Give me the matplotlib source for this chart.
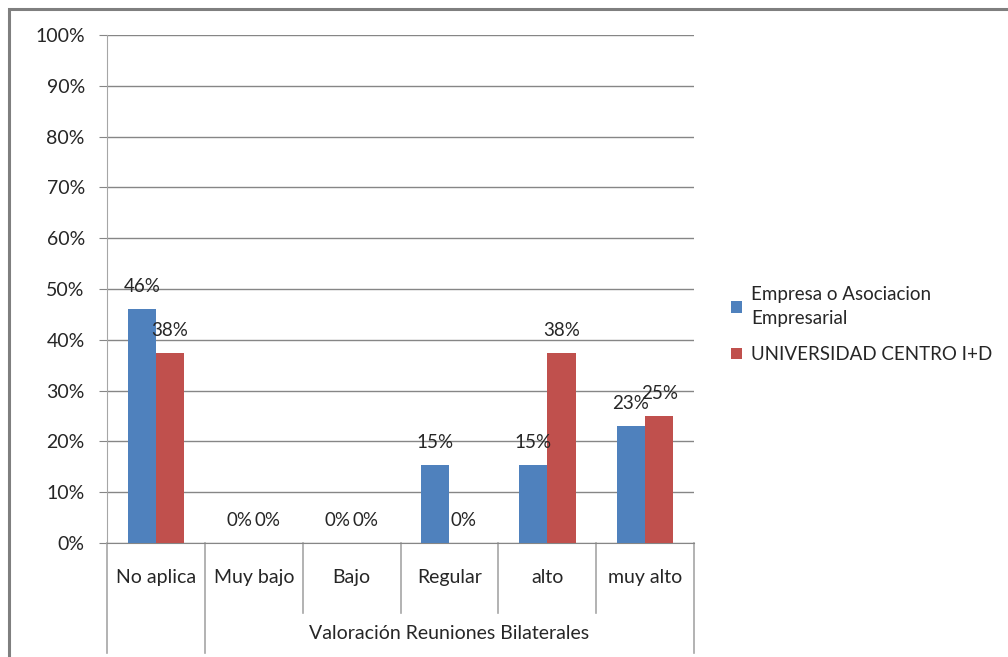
import matplotlib.pyplot as plt
from matplotlib.patches import Rectangle

plt.rcParams['font.family'] = ['Lato', 'DejaVu Sans']

categories = ['No aplica', 'Muy bajo', 'Bajo', 'Regular', 'alto', 'muy alto']
group_label = 'Valoración Reuniones Bilaterales'
series_names = ['Empresa o Asociacion\nEmpresarial', 'UNIVERSIDAD CENTRO I+D']
empresa = [46.15, 0, 0, 15.38, 15.38, 23.08]
universidad = [37.5, 0, 0, 0, 37.5, 25.0]
yticks = [0, 10, 20, 30, 40, 50, 60, 70, 80, 90, 100]

blue = '#4F81BD'
red = '#C0504D'
grid = '#868686'
txt = '#262626'

fig = plt.figure(figsize=(10.08, 6.57), dpi=100)
ax = fig.add_axes([107 / 1008, 1 - 543 / 657, 587 / 1008, 508 / 657])

# outer chart frame (only top/left visible)
fig.patches.append(Rectangle((9 / 1008, -0.1), 1.2, 1 - 9 / 657 + 0.1,
                             transform=fig.transFigure, fill=False,
                             edgecolor='#7f7f7f', linewidth=2.2))

w = 0.29
x = range(len(categories))
b1 = ax.bar([i - w / 2 for i in x], empresa, w, color=blue, label=series_names[0], zorder=3)
b2 = ax.bar([i + w / 2 for i in x], universidad, w, color=red, label=series_names[1], zorder=3)

for bars, vals in ((b1, empresa), (b2, universidad)):
    for bar, v in zip(bars, vals):
        if bars is b1 and v == 0 and categories[bars.index(bar)] == 'Regular':
            continue
        ax.annotate(f'{round(v):.0f}%', (bar.get_x() + bar.get_width() / 2, v),
                    xytext=(0, 10), textcoords='offset points', ha='center',
                    va='bottom', fontsize=13.5, color=txt)

ax.set_xlim(-0.5, len(categories) - 0.5)
ax.set_ylim(0, 100)
ax.set_yticks(yticks)
ax.set_yticklabels([f'{t}%' for t in yticks], fontsize=14, color=txt)
ax.tick_params(axis='y', length=6, color=grid, pad=10)
ax.set_xticks([])
ax.yaxis.grid(True, color=grid, linewidth=1)
ax.set_axisbelow(True)
for s in ['top', 'right']:
    ax.spines[s].set_visible(False)
ax.spines['left'].set_color('#a6a6a6')
ax.spines['bottom'].set_color(grid)
ax.spines['left'].set_bounds(0, 100)

# multi-level category axis
trans = ax.get_xaxis_transform()
lvl1 = -0.138
lvl2 = -0.217
for i in range(len(categories) + 1):
    xb = i - 0.5
    bottom = lvl2 if i in (0, 1, len(categories)) else lvl1
    ax.plot([xb, xb], [0, bottom], transform=trans, color='#a6a6a6',
            linewidth=1.2, clip_on=False)
for i, c in enumerate(categories):
    ax.text(i, -0.068, c, transform=trans, ha='center', va='center',
            fontsize=14, color=txt)
ax.text((0.5 + len(categories) - 0.5) / 2, -0.179, group_label, transform=trans,
        ha='center', va='center', fontsize=14, color=txt)

leg = ax.legend(loc='center left', bbox_to_anchor=(1.035, 0.43), frameon=False,
                fontsize=13.5, handlelength=0.55, handleheight=0.55, handletextpad=0.5,
                labelspacing=1.0, labelcolor=txt)
for t in leg.get_texts():
    t.set_linespacing(1.5)

fig.savefig('out.png', dpi=100)
